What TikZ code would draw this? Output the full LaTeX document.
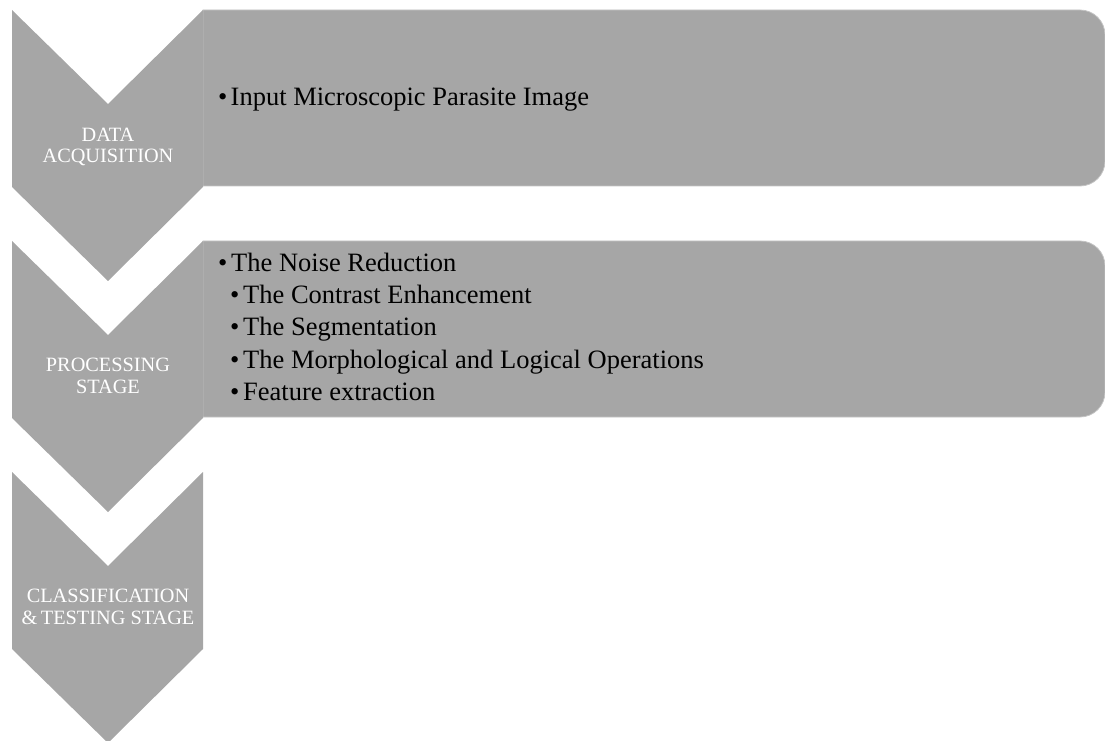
\documentclass[tikz,border=0pt]{standalone}
\usepackage{fontspec}
\setmainfont{Liberation Serif}
\definecolor{shapegray}{HTML}{A6A6A6}
\definecolor{edgegray}{HTML}{C4C4C4}
\tikzset{
  chev/.style={fill=shapegray, draw=none},
  bodybox/.style={fill=shapegray, draw=edgegray, line width=0.8pt},
  stagetxt/.style={text=white, align=center, font=\fontsize{20.3}{21.5}\selectfont, inner sep=0pt},
  bodytxt/.style={anchor=base west, inner sep=0pt, font=\fontsize{26.5}{32}\selectfont},
}
\begin{document}
\begin{tikzpicture}[x=1pt,y=1pt]
\useasboundingbox (0,0) rectangle (1105,740);
\clip (0,0) rectangle (1105,740);
% boxes
\path[bodybox] (203,730) -- (1080,730) arc (90:0:25) -- (1105,579) arc (0:-90:25) -- (203,554) -- cycle;
\path[bodybox] (203,499) -- (1080,499) arc (90:0:25) -- (1105,348) arc (0:-90:25) -- (203,323) -- cycle;
% chevrons
\path[chev] (12,730) -- (108,636) -- (203,730) -- (203,553) -- (108,459) -- (12,553) -- cycle;
\path[chev] (12,499) -- (108,405) -- (203,499) -- (203,322) -- (108,228) -- (12,322) -- cycle;
\path[chev] (12,268) -- (108,174) -- (203,268) -- (203,91) -- (108,-3) -- (12,91) -- cycle;
% stage labels
\node[stagetxt, anchor=base] (s1) at (108,577) {DATA\\ACQUISITION};
\node[stagetxt, anchor=base] (s2) at (108,346.7) {PROCESSING\\STAGE};
\node[stagetxt, anchor=base] (s3) at (108,115.7) {CLASSIFICATION\\\&\,TESTING STAGE};
% body texts
\node[bodytxt] (b1) at (218,634) {•};
\node[bodytxt] (t1) at (230.5,634) {Input Microscopic Parasite Image};
\node[bodytxt] (b2) at (218,468) {•};
\node[bodytxt] (t2) at (231,468) {The Noise Reduction};
\node[bodytxt] (b3) at (230,436) {•};
\node[bodytxt] (t3) at (243,436) {The Contrast Enhancement};
\node[bodytxt] (b4) at (230,404) {•};
\node[bodytxt] (t4) at (243,404) {The Segmentation};
\node[bodytxt] (b5) at (230,372) {•};
\node[bodytxt] (t5) at (243,372) {The Morphological and Logical Operations};
\node[bodytxt] (b6) at (230,340) {•};
\node[bodytxt] (t6) at (243,340) {Feature extraction};
\end{tikzpicture}
\end{document}
